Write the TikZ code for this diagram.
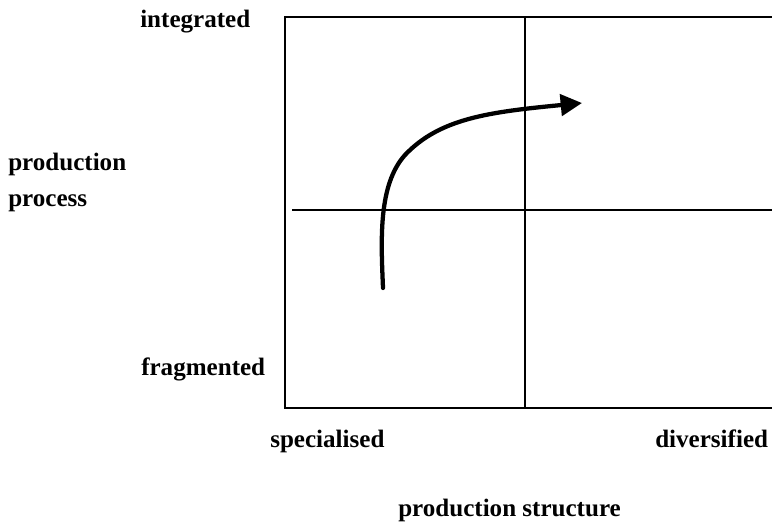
\documentclass[tikz,border=0pt]{standalone}
\usepackage{fontspec}
\setmainfont{Liberation Serif}
\usetikzlibrary{arrows.meta}
\newcommand{\quadlabelfont}{\fontsize{18.8}{22}\selectfont\bfseries}

\begin{document}
\begin{tikzpicture}[
  x=0.75pt,y=-0.75pt,
  every node/.style={font=\quadlabelfont,inner sep=0pt},
  axislbl/.style={anchor=base west},
  quadline/.style={line width=2.2pt},
  trend/.style={-{Triangle[length=16pt,width=16pt]},line width=3.2pt,line cap=round},
]
\useasboundingbox (0,0) rectangle (772,524);

% frame and quadrants
\coordinate (tl) at (285,17);
\coordinate (tr) at (772,17);
\coordinate (bl) at (285,408);
\coordinate (br) at (772,408);
\coordinate (midtop) at (525,17);
\coordinate (midbot) at (525,408);
\coordinate (midl) at (292,210);
\coordinate (midr) at (772,210);

\draw[quadline] (tr) -- (tl) -- (bl) -- (br);
\draw[quadline] (midtop) -- (midbot);
\draw[quadline] (midl) -- (midr);

% labels
\node[axislbl] (integ) at (140,28) {integrated};
\node[axislbl] (prod) at (8,171) {production};
\node[axislbl] (proc) at (8,207) {process};
\node[axislbl] (frag) at (141,375) {fragmented};
\node[axislbl] (spec) at (270,447) {specialised};
\node[axislbl] (div) at (655,447) {diversified};
\node[axislbl] (pstruct) at (398,516) {production structure};

% trend
\coordinate (start) at (383,288);
\coordinate (bend) at (405,155);
\coordinate (tip) at (582,103);
\draw[trend] (start) .. controls (381,240) and (378,185) .. (bend)
  .. controls (440,118) and (490,112) .. (tip);
\end{tikzpicture}
\end{document}
